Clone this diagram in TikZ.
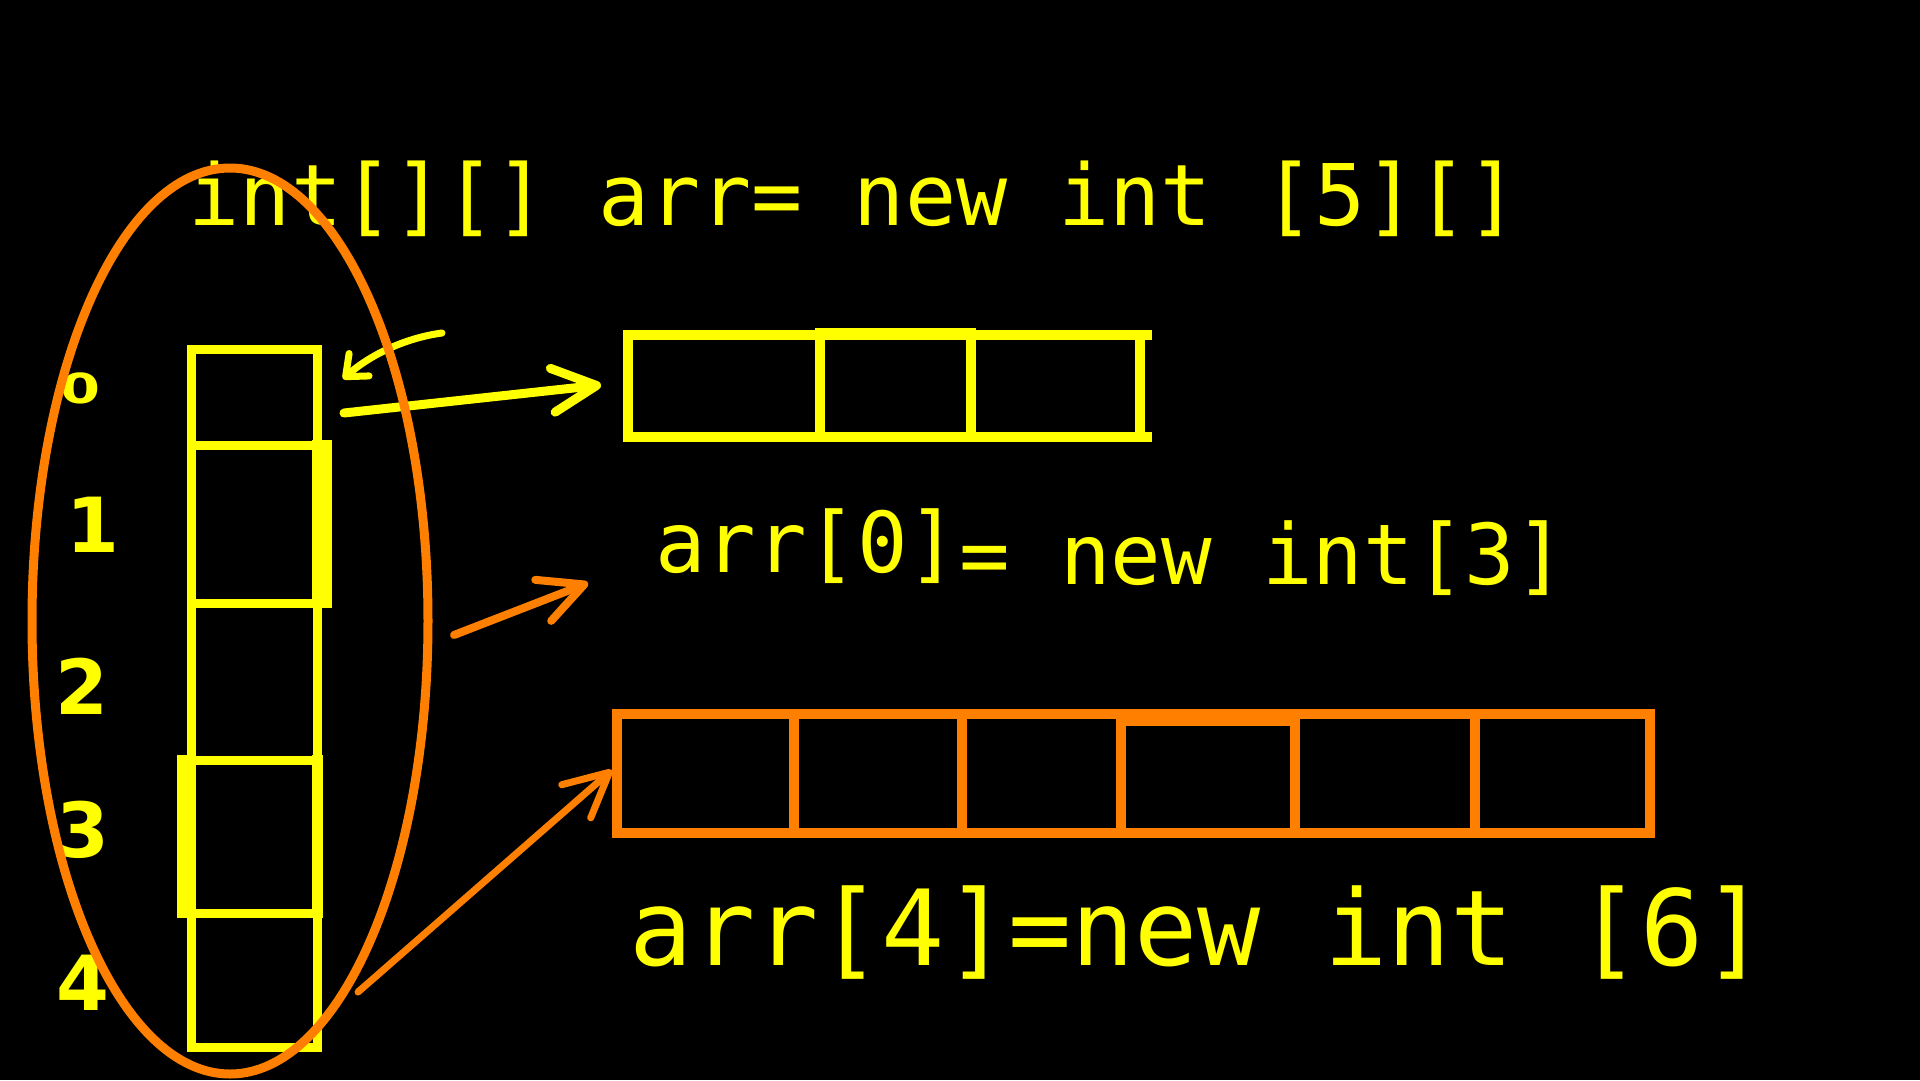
\documentclass[tikz,border=0pt]{standalone}
\usepackage{fontspec}
\newfontfamily\codefont{DejaVu Sans Mono}
\newfontfamily\handfont{DejaVu Sans}
\usetikzlibrary{arrows.meta}
\definecolor{yel}{RGB}{255,255,0}
\definecolor{org}{RGB}{255,128,0}
\begin{document}
\begin{tikzpicture}[x=1pt,y=-1pt,
  ycell/.style={draw=yel,line width=9pt,inner sep=0pt,outer sep=0pt,minimum width=126pt},
  acell/.style={draw=yel,line width=10pt,inner sep=0pt,outer sep=0pt,minimum height=102pt},
  ocell/.style={draw=org,line width=10pt,inner sep=0pt,outer sep=0pt,minimum height=119pt},
  codetxt/.style={text=yel,inner sep=0pt,outer sep=0pt},
  handtxt/.style={text=yel,inner sep=0pt,outer sep=0pt,font=\handfont\bfseries\fontsize{76pt}{80pt}\selectfont},
  yarrow/.style={draw=yel,line cap=round,-{Straight Barb[length=44pt,width=44pt,round]}},
  oarrow/.style={draw=org,line cap=round,-{Straight Barb[length=44pt,width=44pt,round]}}]
\fill[black] (0,0) rectangle (1920,1080);
\useasboundingbox (0,0) rectangle (1920,1080);

% texts
\node[codetxt,anchor=base,font=\codefont\fontsize{85pt}{90pt}\selectfont] (title) at (854,225) {int[][] arr= new int [5][]};
\node[codetxt,anchor=base west,font=\codefont\fontsize{84pt}{90pt}\selectfont] (t0a) at (655,572) {arr[0]};
\node[codetxt,anchor=base west,font=\codefont\fontsize{84pt}{90pt}\selectfont] (t0b) at (959,584) {= new int[3]};
\node[codetxt,anchor=base,font=\codefont\fontsize{105pt}{110pt}\selectfont] (t4) at (1198,965) {arr[4]=new int [6]};

% index labels
\node[handtxt,font=\handfont\bfseries\fontsize{46pt}{48pt}\selectfont,xscale=1.25,yscale=0.9] (n0) at (81,388) {0};
\node[handtxt] (n1) at (93,525) {1};
\node[handtxt] (n2) at (82,686) {2};
\node[handtxt] (n3) at (83,830) {3};
\node[handtxt] (n4) at (83,983) {4};

% column of references
\node[ycell,minimum height=96pt] (c0) at (254,397) {};
\node[ycell,minimum height=158pt] (c1) at (254,524) {};
\node[ycell,minimum height=157pt] (c2) at (254,681.5) {};
\node[ycell,minimum height=153pt] (c3) at (254,836.5) {};
\node[ycell,minimum height=134pt] (c4) at (254,980) {};
\fill[yel] (312,440) rectangle (332,608);
\fill[yel] (177,755) rectangle (196,918);
\fill[yel] (312,755) rectangle (323,918);

% arr[0] array
\node[acell,minimum width=192pt] (a0) at (724,386) {};
\node[acell,minimum width=151pt] (a1) at (895.5,386) {};
\node[acell,minimum width=169pt] (a2) at (1055.5,386) {};
\fill[yel] (1140,330) rectangle (1152,340);
\fill[yel] (1140,432) rectangle (1152,442);
\fill[yel] (815,328) rectangle (976,340);

% arr[4] array
\node[ocell,minimum width=177pt] (r0) at (705.5,773.5) {};
\node[ocell,minimum width=168pt] (r1) at (878,773.5) {};
\node[ocell,minimum width=159pt] (r2) at (1041.5,773.5) {};
\node[ocell,minimum width=174pt] (r3) at (1208,773.5) {};
\node[ocell,minimum width=180pt] (r4) at (1385,773.5) {};
\node[ocell,minimum width=175pt] (r5) at (1562.5,773.5) {};
\fill[org] (1121,714) rectangle (1295,726);

% arrows
\coordinate (ys) at (344,413);
\coordinate (ye) at (601,385);
\draw[yarrow,line width=9pt] (ys) -- (ye);
\coordinate (ss) at (442,333);
\coordinate (se) at (343,379);
\draw[draw=yel,line cap=round,line width=7pt,-{Straight Barb[length=18pt,width=30pt,round]}] (ss) .. controls (405,338) and (370,355) .. (se);
\coordinate (o1s) at (454,635);
\coordinate (o1e) at (588,583);
\draw[oarrow,line width=8pt] (o1s) -- (o1e);
\coordinate (o2s) at (358,992);
\coordinate (o2e) at (612,770);
\draw[oarrow,line width=7pt] (o2s) -- (o2e);

% ellipse around the column
\draw[org,line width=9pt] (230,621) ellipse [x radius=198pt, y radius=453pt];
\end{tikzpicture}
\end{document}
